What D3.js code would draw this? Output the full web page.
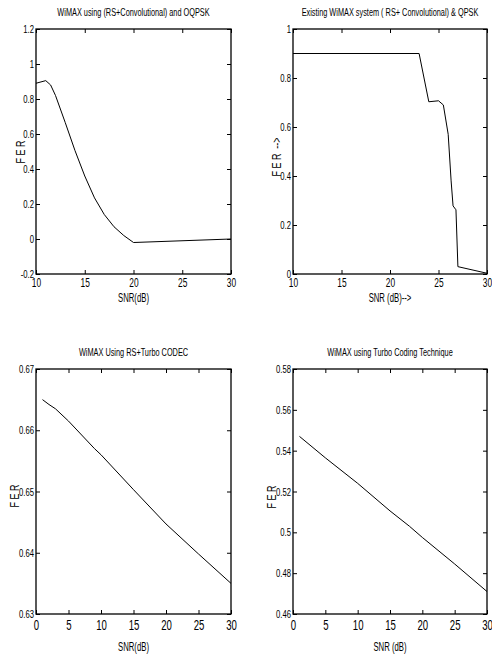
<!DOCTYPE html>
<html>
<head>
<meta charset="utf-8">
<script src="https://cdnjs.cloudflare.com/ajax/libs/d3/7.8.5/d3.min.js"></script>
<style>
  body { margin: 0; background: #fff; }
  svg { display: block; }
  text { font-family: "Liberation Sans", Arial, sans-serif; fill: #000; white-space: pre; }
</style>
</head>
<body>
<svg id="chart" width="492" height="655"></svg>
<script>
let width = 492, height = 655;
let svg = d3.select("#chart");

// panel 1: RS+Convolutional, OQPSK
let snr1 = [10, 11, 11.5, 12, 13, 14, 15, 16, 17, 18, 19, 20, 30];
let fer1 = [0.89, 0.905, 0.88, 0.82, 0.665, 0.505, 0.36, 0.235, 0.14, 0.07, 0.02, -0.02, 0.0];
let xTicks1 = [10, 15, 20, 25, 30];
let yTicks1 = [-0.2, 0, 0.2, 0.4, 0.6, 0.8, 1, 1.2];

// panel 2: existing system, QPSK
let snr2 = [10, 23, 24, 25, 25.5, 26, 26.3, 26.5, 26.8, 27, 30];
let fer2 = [0.9, 0.9, 0.703, 0.707, 0.69, 0.57, 0.38, 0.278, 0.262, 0.03, 0.003];
let xTicks2 = [10, 15, 20, 25, 30];
let yTicks2 = [0, 0.2, 0.4, 0.6, 0.8, 1];

// panel 3: RS+Turbo
let snr3 = [1, 2, 3, 5, 9, 10, 15, 20, 25, 30];
let fer3 = [0.665, 0.6642, 0.6635, 0.6615, 0.657, 0.656, 0.6503, 0.6447, 0.6398, 0.635];
let xTicks3 = [0, 5, 10, 15, 20, 25, 30];
let yTicks3 = [0.63, 0.64, 0.65, 0.66, 0.67];

// panel 4: Turbo only
let snr4 = [1, 5, 10, 15, 18, 20, 25, 30];
let fer4 = [0.547, 0.5365, 0.524, 0.5105, 0.503, 0.4975, 0.4845, 0.471];
let xTicks4 = [0, 5, 10, 15, 20, 25, 30];
let yTicks4 = [0.46, 0.48, 0.5, 0.52, 0.54, 0.56, 0.58];

let panels = [
  { x: snr1, y: fer1, xt: xTicks1, yt: yTicks1, box: [36, 29, 231, 274],
    title: "WiMAX using (RS+Convolutional) and OQPSK", xl: "SNR(dB)", yl: "F E R",
    ylx: 21, yly: 152, xtSize: 13.5, xtPad: 3, xlDy: 28 },
  { x: snr2, y: fer2, xt: xTicks2, yt: yTicks2, box: [293, 29, 487, 274],
    title: "Existing WiMAX system ( RS+ Convolutional) & QPSK", xl: "SNR (dB)-->", yl: "F E R  -->",
    ylx: 277, yly: 157, xtSize: 13.5, xtPad: 3, xlDy: 28 },
  { x: snr3, y: fer3, xt: xTicks3, yt: yTicks3, box: [36, 369, 231, 614],
    title: "WiMAX Using RS+Turbo CODEC", xl: "SNR(dB)", yl: "F E R",
    ylx: 15, yly: 496, xtSize: 15.5, xtPad: 5, xlDy: 37 },
  { x: snr4, y: fer4, xt: xTicks4, yt: yTicks4, box: [293, 369, 487, 614],
    title: "WiMAX using Turbo Coding Technique", xl: "SNR (dB)", yl: "F E R",
    ylx: 272, yly: 497, xtSize: 15.5, xtPad: 5, xlDy: 37 }
];

panels.forEach(drawPanel);

function drawPanel(p) {
  let [x0, y0, x1, y1] = p.box;
  let xs = d3.scaleLinear().domain(d3.extent(p.xt)).range([x0, x1]);
  let ys = d3.scaleLinear().domain(d3.extent(p.yt)).range([y1, y0]);
  let fmt = d => String(+d.toFixed(2));
  let g = svg.append("g");

  let bottom = g.append("g").attr("transform", `translate(0,${y1})`)
    .call(d3.axisBottom(xs).tickValues(p.xt).tickFormat(fmt).tickSizeInner(-4).tickSizeOuter(0).tickPadding(p.xtPad));
  g.append("g").attr("transform", `translate(0,${y0})`)
    .call(d3.axisTop(xs).tickValues(p.xt).tickFormat("").tickSizeInner(-4).tickSizeOuter(0));
  let left = g.append("g").attr("transform", `translate(${x0},0)`)
    .call(d3.axisLeft(ys).tickValues(p.yt).tickFormat(fmt).tickSizeInner(-4).tickSizeOuter(0).tickPadding(2));
  g.append("g").attr("transform", `translate(${x1},0)`)
    .call(d3.axisRight(ys).tickValues(p.yt).tickFormat("").tickSizeInner(-4).tickSizeOuter(0));

  // narrow, MATLAB-like labels
  bottom.selectAll(".tick text").style("font-size", p.xtSize + "px").attr("transform", "scale(0.62,1)");
  left.selectAll(".tick text").style("font-size", "11px")
    .attr("x", -2 / 0.7).attr("transform", "scale(0.7,1)");
  g.selectAll(".domain").remove();
  g.selectAll(".tick line").attr("stroke", "#000");

  g.append("rect")
    .attr("x", x0).attr("y", y0).attr("width", x1 - x0).attr("height", y1 - y0)
    .attr("fill", "none").attr("stroke", "#000").attr("stroke-width", 1.3);

  let line = d3.line().x((d, i) => xs(p.x[i])).y(d => ys(d));
  g.append("path").datum(p.y)
    .attr("d", line).attr("fill", "none").attr("stroke", "#000").attr("stroke-width", 1);

  g.append("text").attr("transform", `translate(${(x0 + x1) / 2},${y0 - 13}) scale(0.7,1)`)
    .attr("text-anchor", "middle").style("font-size", "10.5px").text(p.title);
  g.append("text").attr("transform", `translate(${(x0 + x1) / 2},${y1 + p.xlDy}) scale(0.62,1)`)
    .attr("text-anchor", "middle").style("font-size", "12.5px").text(p.xl);
  g.append("text").attr("transform", `translate(${p.ylx},${p.yly}) rotate(-90) scale(0.75,1)`)
    .attr("text-anchor", "middle").attr("dy", "0.35em").style("font-size", "12px").text(p.yl);
}
</script>
</body>
</html>
